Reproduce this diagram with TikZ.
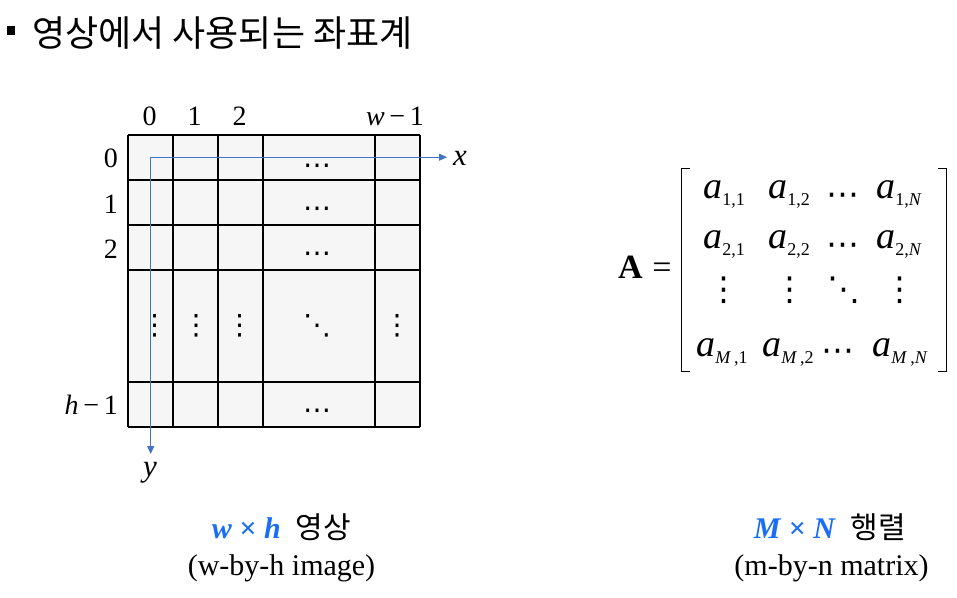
\documentclass[tikz,border=0pt]{standalone}
\usepackage{fontspec}
\setmainfont{Liberation Serif}
\newfontfamily\kr{Noto Sans CJK KR}
\newfontfamily\dv{DejaVu Sans}
\usetikzlibrary{arrows.meta}
\definecolor{axisblue}{RGB}{68,114,196}
\definecolor{capblue}{RGB}{25,110,245}
\definecolor{cellgray}{RGB}{246,246,246}
\newcommand{\msub}[1]{\raisebox{-7.5pt}{\fontsize{18}{18}\selectfont #1}}
\tikzset{
  lbl/.style={inner sep=0pt, anchor=base, font=\fontsize{28}{30}\selectfont},
  rlbl/.style={inner sep=0pt, anchor=base east, font=\fontsize{28}{30}\selectfont},
  axlbl/.style={inner sep=0pt, anchor=base, font=\fontsize{31}{33}\selectfont},
  gdots/.style={inner sep=0pt, font=\dv\fontsize{28}{30}\selectfont},
  ment/.style={inner sep=0pt, anchor=base, font=\fontsize{38}{40}\selectfont},
  mdots/.style={inner sep=0pt, font=\dv\fontsize{33}{35}\selectfont},
  gridline/.style={line width=1.4pt, black},
  axis/.style={line width=1.1pt, axisblue, -{Triangle[length=8pt,width=7pt]}},
  captext/.style={inner sep=0pt, anchor=base, font=\fontsize{30}{32}\selectfont},
  bracket/.style={line width=1.3pt, black},
}
\begin{document}
\begin{tikzpicture}[x=1pt,y=-1pt]
\useasboundingbox (0,0) rectangle (957,597);
% title
\fill (6.5,26) rectangle (15,34.5);
\node[inner sep=0pt, anchor=base west, font=\kr\fontsize{36}{38}\selectfont] (title) at (32,46) {영상에서 사용되는 좌표계};
% grid
\fill[cellgray] (128,135) rectangle (420,427);
\foreach \xx in {128,173,218,263,375,420} \draw[gridline] (\xx,135) -- (\xx,427);
\foreach \yy in {135,180,225,270,382,427} \draw[gridline] (128,\yy) -- (420,\yy);
% column labels
\node[lbl] (c0) at (149.5,125) {0};
\node[lbl] (c1) at (194.5,125) {1};
\node[lbl] (c2) at (239.5,125) {2};
\node[lbl] (cw) at (395,125) {\textit{w}\,−\,1};
% row labels
\node[rlbl] (r0) at (118,167) {0};
\node[rlbl] (r1) at (118,213) {1};
\node[rlbl] (r2) at (118,258) {2};
\node[rlbl] (rh) at (118,414) {\textit{h}\,−\,1};
% cell dots
\node[gdots] (d0) at (317,169.5) {⋯};
\node[gdots] (d1) at (317,212.5) {⋯};
\node[gdots] (d2) at (317,257.5) {⋯};
\node[gdots] (dh) at (317,414.5) {⋯};
\node[gdots] (v0) at (154.5,326) {⋮};
\node[gdots] (v1) at (196,326) {⋮};
\node[gdots] (v2) at (239.5,326) {⋮};
\node[gdots] (vd) at (317,326) {⋱};
\node[gdots] (vw) at (397,326) {⋮};
% axes
\coordinate (origin) at (150.7,157.2);
\coordinate (xend) at (447,157.2);
\coordinate (yend) at (150.7,454);
\draw[axis] (origin) -- (xend);
\draw[axis] (origin) -- (yend);
\node[axlbl] (xl) at (460,165) {\textit{x}};
\node[axlbl] (yl) at (150,476) {\textit{y}};
% matrix
\node[inner sep=0pt, anchor=base, font=\bfseries\fontsize{34}{36}\selectfont] (A) at (630.5,278.5) {A};
\node[inner sep=0pt, anchor=base, font=\fontsize{34}{36}\selectfont] (eq) at (662,278.5) {=};
\draw[bracket] (690,168.5) -- (681.7,168.5) -- (681.7,371.7) -- (690,371.7);
\draw[bracket] (938.3,168.5) -- (946.7,168.5) -- (946.7,371.7) -- (938.3,371.7);
\node[ment] (a11) at (724,198) {\textit{a}\msub{1,1}};
\node[ment] (a12) at (789,198) {\textit{a}\msub{1,2}};
\node[mdots] (a1d) at (843,199) {⋯};
\node[ment] (a1n) at (899,198) {\textit{a}\msub{1,\textit{N}}};
\node[ment] (a21) at (724,248) {\textit{a}\msub{2,1}};
\node[ment] (a22) at (789,248) {\textit{a}\msub{2,2}};
\node[mdots] (a2d) at (843,249) {⋯};
\node[ment] (a2n) at (899,248) {\textit{a}\msub{2,\textit{N}}};
\node[mdots] (vd1) at (723.5,290) {⋮};
\node[mdots] (vd2) at (789.5,290) {⋮};
\node[mdots] (vd3) at (843.5,290) {⋱};
\node[mdots] (vd4) at (900,290) {⋮};
\node[ment] (am1) at (722,356) {\textit{a}\msub{\textit{M}\,,1}};
\node[ment] (am2) at (788,356) {\textit{a}\msub{\textit{M}\,,2}};
\node[mdots] (amd) at (838,355) {⋯};
\node[ment] (amn) at (900,356) {\textit{a}\msub{\textit{M}\,,\textit{N}}};
% captions
\node[captext] (cap1) at (281.5,538) {\textcolor{capblue}{\textbf{\textit{w}} \textbf{×} \textbf{\textit{h}}}\ \ {\kr 영상}};
\node[captext] (cap1b) at (281.5,575) {(w-by-h image)};
\node[captext] (cap2) at (830,538) {\textcolor{capblue}{\textbf{\textit{M}} \textbf{×} \textbf{\textit{N}}}\ \ {\kr 행렬}};
\node[captext] (cap2b) at (831.5,575) {(m-by-n matrix)};
\end{tikzpicture}
\end{document}
